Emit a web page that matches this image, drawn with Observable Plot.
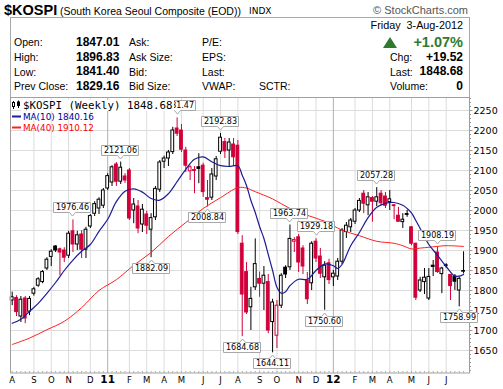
<!DOCTYPE html>
<html><head><meta charset="utf-8">
<script src="https://cdn.jsdelivr.net/npm/d3@7"></script>
<script src="https://cdn.jsdelivr.net/npm/@observablehq/plot@0.6"></script>
<style>
html,body{margin:0;padding:0;background:#fff;}
body{width:503px;height:389px;overflow:hidden;font-family:"Liberation Sans",Arial,sans-serif;color:#000;}
#head{position:relative;width:503px;height:97px;}
#head div{position:absolute;white-space:nowrap;line-height:1;}
.lab{font-size:10.5px;}
.val{font-size:12px;font-weight:bold;}
#chart svg{display:block;}
</style></head><body>
<div id="head">
<div style="left:4px;top:3px;font-size:14.5px;font-weight:bold;">$KOSPI</div>
<div style="left:60px;top:6px;font-size:10.5px;">(South Korea Seoul Composite (EOD))</div>
<div style="left:249px;top:7.4px;font-size:9px;font-family:'DejaVu Sans',sans-serif;">INDX</div>
<div style="right:35px;top:4.7px;font-size:11px;color:#555;">© StockCharts.com</div>
<div style="left:10px;top:17px;width:460px;height:80px;box-sizing:border-box;border:1px solid #a8a8a8;border-bottom:none;"></div>
<div style="right:40px;top:20.4px;font-size:10.8px;">Friday&nbsp;&nbsp;3-Aug-2012</div>

<div class="lab" style="left:14px;top:37.1px;">Open:</div>
<div class="val" style="left:76px;top:35.8px;">1847.01</div>
<div class="lab" style="left:129px;top:37.1px;">Ask:</div>
<div class="lab" style="left:202px;top:37.1px;">P/E:</div>
<div style="left:383px;top:36.5px;width:0;height:0;border-left:7px solid transparent;border-right:7px solid transparent;border-bottom:11px solid #2f7a2f;"></div>
<div style="right:40px;top:34.7px;font-size:14.5px;font-weight:bold;color:#2f7a2f;">+1.07%</div>

<div class="lab" style="left:14px;top:52.1px;">High:</div>
<div class="val" style="left:76px;top:50.8px;">1896.83</div>
<div class="lab" style="left:129px;top:52.1px;">Ask Size:</div>
<div class="lab" style="left:202px;top:52.1px;">EPS:</div>
<div class="lab" style="left:390px;top:52.1px;">Chg:</div>
<div class="val" style="right:40px;top:50.8px;">+19.52</div>

<div class="lab" style="left:14px;top:66.6px;">Low:</div>
<div class="val" style="left:76px;top:65.3px;">1841.40</div>
<div class="lab" style="left:129px;top:66.6px;">Bid:</div>
<div class="lab" style="left:202px;top:66.6px;">Last:</div>
<div class="lab" style="left:390px;top:66.6px;">Last:</div>
<div class="val" style="right:40px;top:65.3px;">1848.68</div>

<div class="lab" style="left:14px;top:81.1px;">Prev Close:</div>
<div class="val" style="left:76px;top:79.8px;">1829.16</div>
<div class="lab" style="left:129px;top:81.1px;">Bid Size:</div>
<div class="lab" style="left:202px;top:81.1px;">VWAP:</div>
<div class="lab" style="left:259px;top:81.1px;">SCTR:</div>
<div class="lab" style="left:390px;top:81.1px;">Volume:</div>
<div class="val" style="right:40px;top:79.8px;">0</div>
</div>
<div id="chart"></div>
<script>
// ---------- data ----------
const firstWeek = "2010-08-02"; // Monday of the first weekly bar
const open  = [1775,1781,1735,1780,1747,1792,1812,1821,1855,1884,1910,1903,1900,1887,1948,1915,1940,1902,1960,1992,2005,2012,2055,2070,2115,2072,2085,2100,2000,2010,1965,1990,1952,1983,2052,2122,2130,2146,2205,2200,2150,2098,2101,2108,2112,2031,2032,2085,2147,2171,2150,2165,2162,1917,1846,1758,1808,1829,1817,1821,1721,1687,1762,1857,1858,1922,1933,1905,1825,1818,1922,1885,1833,1868,1833,1835,1872,1946,1958,1972,2000,2042,2013,2031,2022,2042,2035,2021,2013,1987,1971,1991,1958,1917,1800,1821,1780,1862,1895,1841,1863,1839,1835,1800,1847.01];
const high  = [1796,1787,1785,1785,1785,1808,1832,1850,1882,1902,1912,1906,1907,1948,1976.46,1948,1950,1958,1990,2022,2032,2055,2092,2112,2120,2121.06,2092,2105,2030,2025,2015,1998,1992,2060,2125,2136,2150,2208,2231.47,2215,2158,2112,2110,2142,2118,2075,2105,2135,2192.83,2180,2180,2180,2175,1937,1870,1808,1929,1846,1860,1840,1778,1775,1842,1862,1963.74,1932,1940,1912,1845,1922,1929.18,1905,1872,1878,1850,1880,1955,1970,1980,2005,2030,2050,2045,2035,2057.28,2050,2045,2050,2015,2008,1992,2000,1960,1918,1833,1855,1855,1875,1908.19,1858,1867,1840,1840,1834,1896.83];
const low   = [1762,1735,1720,1717,1737,1786,1808,1817,1850,1860,1895,1837,1870,1880,1895,1900,1880,1880,1955,1985,1990,2005,2050,2060,2060,2065,2068,1975,1967,1942,1945,1940,1882.09,1975,2045,2105,2110,2140,2185,2145,2095,2075,2042,2067,2033,2008.84,2025,2075,2140,2130,2108,2110,1940,1684.68,1740,1700,1800,1783,1750,1692,1644.11,1655,1755,1830,1850,1895,1845,1840,1765,1800,1870,1830,1750.60,1815,1810,1825,1865,1930,1945,1965,1995,1992,1987,1971,2010,2012,2005,2000,1977,1970,1955,1983,1912,1775,1795,1790,1775,1835,1843,1792,1855,1775,1800,1758.99,1841.40];
const close = [1783,1746,1777,1730,1779,1803,1828,1846,1877,1897,1900,1895,1882,1942,1915,1938,1902,1952,1986,2016,2027,2050,2086,2108,2072,2107,2075,1980,2015,1955,2002,1962,1981,2054,2120,2130,2145,2200,2192,2152,2112,2108,2099,2104,2046,2027,2090,2128,2182,2148,2170,2133,1946,1790,1745,1779,1866,1817,1837,1700,1770,1762,1837,1840,1929,1926,1870,1860,1778,1917,1880,1842,1862,1826,1842,1872,1950,1962,1975,2000,2024,2017,2033,2022,2033,2018,2012,2028,2011,1972,1977,1989,1917,1782,1825,1832,1834,1859,1846,1855,1861,1811,1822,1829.16,1848.68];

const ma10Weeks = [0,2,4,6,8,10,12,14,16,18,20,22,24,26,28,30,32,34,36,38,40,42,44,46,48,50,52,53,54,55,56,57,58,59,60,61,62,63,64,66,68,70,72,74,75,76,78,80,82,84,86,88,90,91,92,93,94,95,96,98,100,102,103,104];
const ma10      = [1718,1728,1748,1768,1793,1820,1850,1876,1898,1915,1948,1978,2022,2048,2054,2046,2030,2026,2042,2072,2103,2128,2134,2122,2112,2110,2112,2088,2062,2025,1995,1960,1930,1890,1850,1808,1793,1797,1812,1828,1828,1850,1866,1862,1855,1865,1912,1945,1982,2008,2018,2020,2013,2005,1994,1975,1955,1935,1915,1888,1860,1836,1836,1840.16];
const ma40Weeks = [0,4,8,12,16,20,24,28,32,36,40,44,48,52,54,56,60,64,68,72,76,80,84,88,90,92,94,96,100,104];
const ma40      = [1665,1681,1702,1723,1757,1800,1827,1863,1895,1935,1970,2005,2032,2057,2056,2047,2029,2005,1988,1973,1951,1937,1923,1918,1912,1904,1906,1908,1912,1910.12];

const monthTicks  = ["2010-08-02","2010-09-06","2010-10-04","2010-11-01","2010-12-06","2011-01-03","2011-02-07","2011-03-07","2011-04-04","2011-05-02","2011-06-06","2011-07-04","2011-08-01","2011-09-05","2011-10-03","2011-11-07","2011-12-05","2012-01-02","2012-02-06","2012-03-05","2012-04-02","2012-05-07","2012-06-04","2012-07-02"];
const monthLabels = ["A","S","O","N","D","11","F","M","A","M","J","J","A","S","O","N","D","12","F","M","A","M","J","J"];
const yTicks = [1650,1700,1750,1800,1850,1900,1950,2000,2050,2100,2150,2200,2250];
const highLabelWeeks = [14,25,38,48,64,70,84,98];
const lowLabelWeeks  = [32,45,53,60,72,103];
const legendTitle = "$KOSPI (Weekly) 1848.68";
const legendMA10 = "MA(10) 1840.16";
const legendMA40 = "MA(40) 1910.12";

// ---------- layout ----------
const W = 503, H = 292, mL = 10, mR = 34, mT = 0, mB = 16.5;
const week0X = 11.7, weekPx = 4.34;
const DAY = 864e5, WEEK = 7 * DAY, t0 = Date.parse(firstWeek + "T00:00:00Z");
const wk = i => new Date(t0 + i * WEEK);
const xDomain = [wk((mL - week0X) / weekPx), wk((W - mR - week0X) / weekPx)];
const yDomain = [1593.75, 2282.5];
const msPerPx = WEEK / weekPx, valPerPx = (yDomain[1] - yDomain[0]) / (H - mT - mB);
const halfBody = 1.4 * msPerPx;
const RED = "#d2003a", BLACK = "#000", NAVY = "#1c1c96", MARED = "#ff2020";

const bars = close.map((c, i) => {
  const prev = i ? close[i - 1] : open[i];
  return {date: wk(i), o: open[i], h: high[i], l: low[i], c,
          col: c < prev ? RED : BLACK, hollow: c >= open[i]};
});
const ticks = monthTicks.map((d, k) => ({date: new Date(d + "T00:00:00Z"), label: monthLabels[k], year: /^\d+$/.test(monthLabels[k])}));
const ma10Data = ma10Weeks.map((w, k) => ({date: wk(w), v: ma10[k]}));
const ma40Data = ma40Weeks.map((w, k) => ({date: wk(w), v: ma40[k]}));
const xEnd = xDomain[1];

function annotations(index, scales) {
  const sx = scales.x, sy = scales.y;
  const g = d3.create("svg:g").attr("font-family", "'DejaVu Sans',sans-serif").attr("font-size", 8).attr("text-anchor", "middle");
  const hw = 18.5, bh = 10;
  const draw = (i, v, above) => {
    const cx = Math.round(sx(wk(i))), yv = Math.round(sy(v));
    let path, ty;
    if (above) {
      const yb = yv - 7 + 0.5, top = yb - bh, tip = yb + 3.5;
      path = `M${cx - hw},${top}H${cx + hw}V${yb}H${cx + 3.5}L${cx + 0.5},${tip}L${cx - 2.5},${yb}H${cx - hw}Z`;
      ty = top + 7.8;
    } else {
      const yt = yv + 6 + 0.5, tip = yt - 3.5;
      path = `M${cx - hw},${yt}H${cx - 2.5}L${cx + 0.5},${tip}L${cx + 3.5},${yt}H${cx + hw}V${yt + bh}H${cx - hw}Z`;
      ty = yt + 7.8;
    }
    g.append("path").attr("d", path).attr("fill", "#fff").attr("stroke", "#a8a8a8");
    g.append("text").attr("x", cx + 0.5).attr("y", ty).attr("fill", "#000").text(v.toFixed(2));
  };
  for (const i of highLabelWeeks) draw(i, high[i], true);
  for (const i of lowLabelWeeks) draw(i, low[i], false);
  return g.node();
}

function legend() {
  const g = d3.create("svg:g").attr("text-anchor", "start");
  g.append("rect").attr("x", 21).attr("y", 3).attr("width", 153).attr("height", 11).attr("fill", "#fff");
  // candle glyph
  g.append("line").attr("x1", 13.5).attr("x2", 13.5).attr("y1", 4).attr("y2", 12).attr("stroke", "#000");
  g.append("rect").attr("x", 12.5).attr("y", 5.5).attr("width", 2).attr("height", 4).attr("fill", "#fff").attr("stroke", "#000");
  g.append("line").attr("x1", 18.5).attr("x2", 18.5).attr("y1", 3.5).attr("y2", 11).attr("stroke", "#000");
  g.append("rect").attr("x", 17.5).attr("y", 5).attr("width", 2).attr("height", 3.5).attr("fill", "#000").attr("stroke", "#000");
  g.append("text").attr("x", 23).attr("y", 12).attr("text-anchor", "start").attr("font-family", "'DejaVu Sans Mono',monospace").attr("font-size", 10.8).attr("fill", "#000").text(legendTitle);
  g.append("line").attr("x1", 12).attr("x2", 21).attr("y1", 19.5).attr("y2", 19.5).attr("stroke", NAVY).attr("stroke-width", 2);
  g.append("text").attr("x", 23).attr("y", 23).attr("text-anchor", "start").attr("font-family", "'DejaVu Sans',sans-serif").attr("font-size", 8.8).attr("fill", "#000099").text(legendMA10);
  g.append("line").attr("x1", 12).attr("x2", 21).attr("y1", 30.5).attr("y2", 30.5).attr("stroke", MARED).attr("stroke-width", 2);
  g.append("text").attr("x", 23).attr("y", 34).attr("text-anchor", "start").attr("font-family", "'DejaVu Sans',sans-serif").attr("font-size", 8.8).attr("fill", "#ff0000").text(legendMA40);
  return g.node();
}

const chart = Plot.plot({
  width: W, height: H, marginLeft: mL, marginRight: mR, marginTop: mT, marginBottom: mB,
  style: {fontFamily: "'DejaVu Sans',sans-serif", fontSize: "9.5px", background: "#fff", overflow: "visible"},
  x: {type: "utc", domain: xDomain, axis: null},
  y: {domain: yDomain, axis: null},
  marks: [
    Plot.ruleY(yTicks, {stroke: "#dcdcdc"}),
    Plot.ruleX(ticks.filter((t, k) => k > 0 && !t.year), {x: "date", stroke: "#dcdcdc"}),
    Plot.ruleX(ticks.filter(t => t.year), {x: "date", stroke: "#b0b0b0"}),
    Plot.ruleX(bars, {x: "date", y1: () => yDomain[0], y2: () => yDomain[0] + 1.5 * valPerPx, stroke: "#aaa"}),
    Plot.ruleX(bars, {x: "date", y1: "l", y2: "h", stroke: "col"}),
    Plot.rect(bars, {x1: d => new Date(+d.date - halfBody), x2: d => new Date(+d.date + halfBody), y1: "o", y2: "c",
                     fill: d => d.hollow ? "#fff" : d.col, stroke: "col", strokeWidth: 1}),
    Plot.line(ma40Data, {x: "date", y: "v", stroke: MARED, strokeWidth: 1, curve: "catmull-rom"}),
    Plot.line(ma10Data, {x: "date", y: "v", stroke: NAVY, strokeWidth: 1.2, curve: "catmull-rom"}),
    Plot.frame({stroke: "#a0a0a0"}),
    Plot.ruleY(d3.range(1600, 2281, 10), {x1: () => xEnd, x2: () => new Date(+xEnd + 2 * msPerPx), stroke: "#999"}),
    Plot.ruleY(yTicks, {x1: () => xEnd, x2: () => new Date(+xEnd + 3.5 * msPerPx), stroke: "#999"}),
    Plot.text(yTicks, {x: () => xEnd, y: d => d, text: d => String(d), dx: 4, textAnchor: "start", fontSize: 9.5, fill: "#000"}),
    Plot.text(ticks.filter(t => !t.year), {x: "date", y: () => yDomain[0], text: "label", dy: 7, fontSize: 8.5, fill: "#000"}),
    Plot.text(ticks.filter(t => t.year), {x: "date", y: () => yDomain[0], text: "label", dy: 7, fontSize: 10.5, fontWeight: "bold", fill: "#000"}),
    annotations,
    legend
  ]
});
document.getElementById("chart").appendChild(chart);
</script>
</body></html>
